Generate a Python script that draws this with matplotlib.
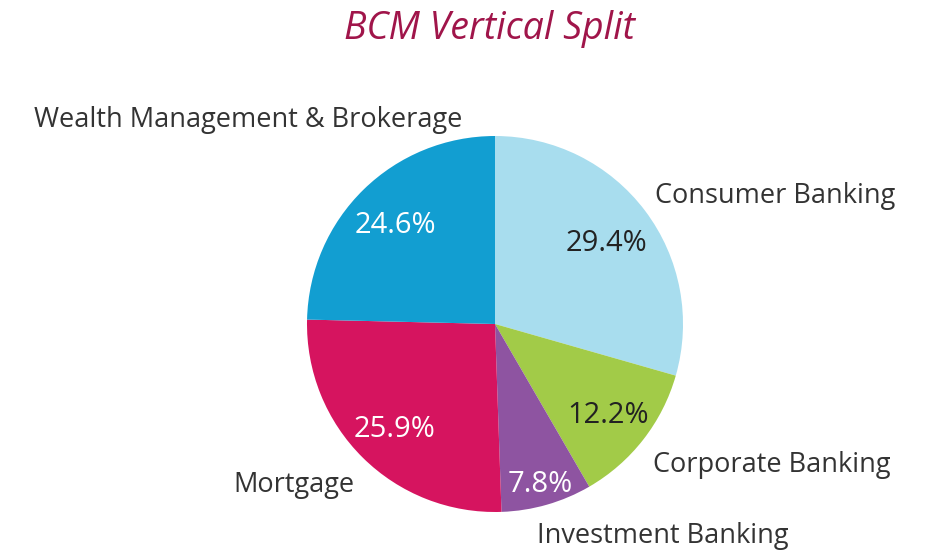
import numpy as np
import matplotlib
matplotlib.use("Agg")
import matplotlib.pyplot as plt

# data
segments = ["Consumer Banking", "Corporate Banking", "Investment Banking",
            "Mortgage", "Wealth Management & Brokerage"]
shares = [29.4, 12.2, 7.8, 25.9, 24.6]
pct_labels = ["29.4%", "12.2%", "7.8%", "25.9%", "24.6%"]

colors = ["#A8DDEE", "#A2CB48", "#8E54A1", "#D6145F", "#129ED1"]
pct_colors = ["#222222", "#222222", "white", "white", "white"]
pct_dist = [0.74, 0.76, 0.87, 0.76, 0.76]
# outside label anchors (data units, radius = 1) and alignment
label_pos = [(0.851, 0.697, "left"), (0.84, -0.734, "left"), (0.223, -1.11, "left"),
             (-0.745, -0.84, "right"), (-0.176, 1.106, "right")]

plt.rcParams["font.family"] = ["Open Sans", "DejaVu Sans"]

W, H = 925, 552
fig = plt.figure(figsize=(W / 100, H / 100), dpi=100)
cx, cy, r = 495, 324, 188
ax = fig.add_axes([(cx - r) / W, (H - cy - r) / H, 2 * r / W, 2 * r / H])

wedges, _ = ax.pie(shares, colors=colors, startangle=90, counterclock=False,
                   radius=1, wedgeprops=dict(linewidth=0))
ax.set_xlim(-1, 1)
ax.set_ylim(-1, 1)
ax.set_aspect("equal")
ax.axis("off")

for w, txt, c, d in zip(wedges, pct_labels, pct_colors, pct_dist):
    mid = np.deg2rad((w.theta1 + w.theta2) / 2)
    ax.text(d * np.cos(mid), d * np.sin(mid), txt, color=c, fontsize=21,
            ha="center", va="center_baseline")

for name, (x, y, ha) in zip(segments, label_pos):
    ax.text(x, y, name, color="#333333", fontsize=19.5, ha=ha,
            va="center_baseline", clip_on=False)

fig.text(490 / W, 1 - 24 / H, "BCM Vertical Split", color="#A0154A", fontsize=27,
         style="italic", ha="center", va="center_baseline")

fig.savefig("out.png", dpi=100)
